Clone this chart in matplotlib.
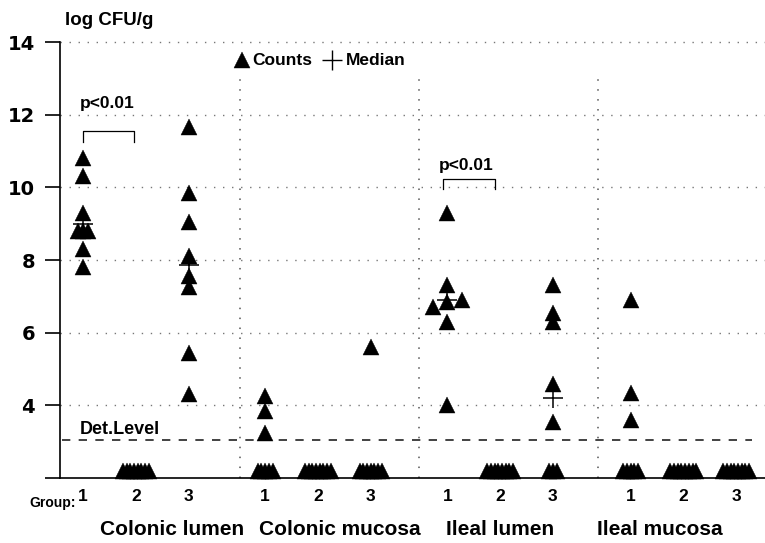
import numpy as np
import matplotlib
matplotlib.use('Agg')
import matplotlib.pyplot as plt

plt.rcParams['font.family'] = ['Liberation Sans', 'DejaVu Sans']

sites = ['Colonic lumen', 'Colonic mucosa', 'Ileal lumen', 'Ileal mucosa']
group_names = ['1', '2', '3']

# counts above detection level, log CFU/g, one list per group (1, 2, 3)
colonic_lumen = [[10.8, 10.3, 9.3, 8.8, 8.8, 8.8, 8.3, 7.8], [],
                 [11.65, 9.85, 9.05, 8.1, 7.55, 7.25, 5.45, 4.3]]
colonic_mucosa = [[4.25, 3.85, 3.25], [], [5.6]]
ileal_lumen = [[9.3, 7.3, 6.9, 6.85, 6.7, 6.3, 4.0], [],
               [7.3, 6.55, 6.3, 4.6, 3.55]]
ileal_mucosa = [[6.9, 4.35, 3.6], [], []]

# animals below detection level per group
colonic_lumen_nd = [0, 8, 0]
colonic_mucosa_nd = [5, 8, 7]
ileal_lumen_nd = [0, 8, 3]
ileal_mucosa_nd = [5, 8, 8]

# medians that are above detection level (site index, group index, value)
median_site = [0, 0, 2, 2]
median_group = [0, 2, 0, 2]
median_val = [9.0, 7.85, 6.9, 4.2]

det_level = 3.05
floor_val = 2.18

counts = [colonic_lumen, colonic_mucosa, ileal_lumen, ileal_mucosa]
below = [colonic_lumen_nd, colonic_mucosa_nd, ileal_lumen_nd, ileal_mucosa_nd]

# sideways shift of overlapping triangles
shift = {(0, 0): [0, 0, 0, -0.1, 0, 0.1, 0, 0],
         (2, 0): [0, 0, 0.28, 0, -0.28, 0, 0]}

section_x0 = [0, 3.45, 6.9, 10.37]


def gx(s, g):
    return section_x0[s] + g + 1


fig = plt.figure(figsize=(7.65, 5.43), dpi=100)
ax = fig.add_axes([60 / 765, 65 / 543, 705 / 765, 436 / 543])
ax.set_xlim(0.565, 13.917)
ax.set_ylim(2, 14)

# grid and section dividers
for yv in [4, 6, 8, 10, 12, 14]:
    ax.plot([0.565, 13.917], [yv, yv], ls=(0, (1, 5.5)), lw=1.0,
            color='#777777', zorder=1, clip_on=False)
for xv in [3.97, 7.36, 10.75]:
    ax.plot([xv, xv], [2, 13.15], ls=(0, (1, 5.5)), lw=1.1,
            color='#555555', zorder=1)

ax.plot([0.6, 13.67], [det_level, det_level], ls=(0, (5, 5)), lw=1.2,
        color='#222222', zorder=1)
ax.text(0.94, det_level + 0.04, 'Det.Level', fontsize=13, weight='bold',
        ha='left', va='bottom')

tri = dict(marker='^', ms=11.5, color='black', mec='black', mew=0.3,
           ls='none', zorder=3)

for s in range(4):
    for g in range(3):
        x0 = gx(s, g)
        vals = counts[s][g]
        dx = shift.get((s, g), [0] * len(vals))
        if vals:
            ax.plot([x0 + d for d in dx], vals, **tri)
        n = below[s][g]
        if n:
            offs = (np.arange(n) - (n - 1) / 2) * 0.07
            ax.plot(x0 + offs, [floor_val] * n, clip_on=False, **tri)

for s, g, v in zip(median_site, median_group, median_val):
    ax.plot(gx(s, g), v, marker='+', ms=14, mew=1.1, color='black', zorder=4)

# p-value brackets
for (xa, xb, ytop, ybot, tx, ty) in [(1.0, 1.97, 11.55, 11.25, 1.45, 12.3),
                                     (7.82, 8.8, 10.23, 9.95, 8.25, 10.6)]:
    ax.plot([xa, xa, xb, xb], [ybot, ytop, ytop, ybot], color='black', lw=0.9)
    ax.text(tx, ty, 'p<0.01', fontsize=12.5, weight='bold', ha='center', va='center')

# legend
ax.plot(4.01, 13.5, **tri)
ax.text(4.2, 13.5, 'Counts', fontsize=12.5, weight='bold', va='center')
ax.plot(5.72, 13.5, marker='+', ms=14, mew=1.0, color='black')
ax.text(5.98, 13.5, 'Median', fontsize=12.5, weight='bold', va='center')

# axis styling
for side in ['top', 'right']:
    ax.spines[side].set_visible(False)
ax.spines['left'].set_linewidth(1.2)
ax.spines['bottom'].set_linewidth(1.2)
ax.set_xticks([])
ax.set_yticks([2, 4, 6, 8, 10, 12, 14])
ax.set_yticklabels(['', '4', '6', '8', '10', '12', '14'],
                   family='DejaVu Sans', weight='bold', fontsize=14)
ax.tick_params(axis='y', length=11, width=1.2, pad=7)

ax.text(0.66, 14.6, 'log CFU/g', fontsize=13.5, weight='bold',
        ha='left', va='center', clip_on=False)

# group numbers and site names below the axis
for s in range(4):
    for g in range(3):
        ax.text(gx(s, g), 1.5, group_names[g], fontsize=12.5, weight='bold',
                ha='center', va='center', clip_on=False)
ax.text(0.87, 1.3, 'Group:', fontsize=10, weight='bold', ha='right',
        va='center', clip_on=False)
for s, xc in zip(range(4), [2.69, 5.87, 8.9, 11.93]):
    ax.text(xc, 0.57, sites[s], fontsize=15, weight='bold', ha='center',
            va='center', clip_on=False)

fig.savefig('out.png', dpi=100)
